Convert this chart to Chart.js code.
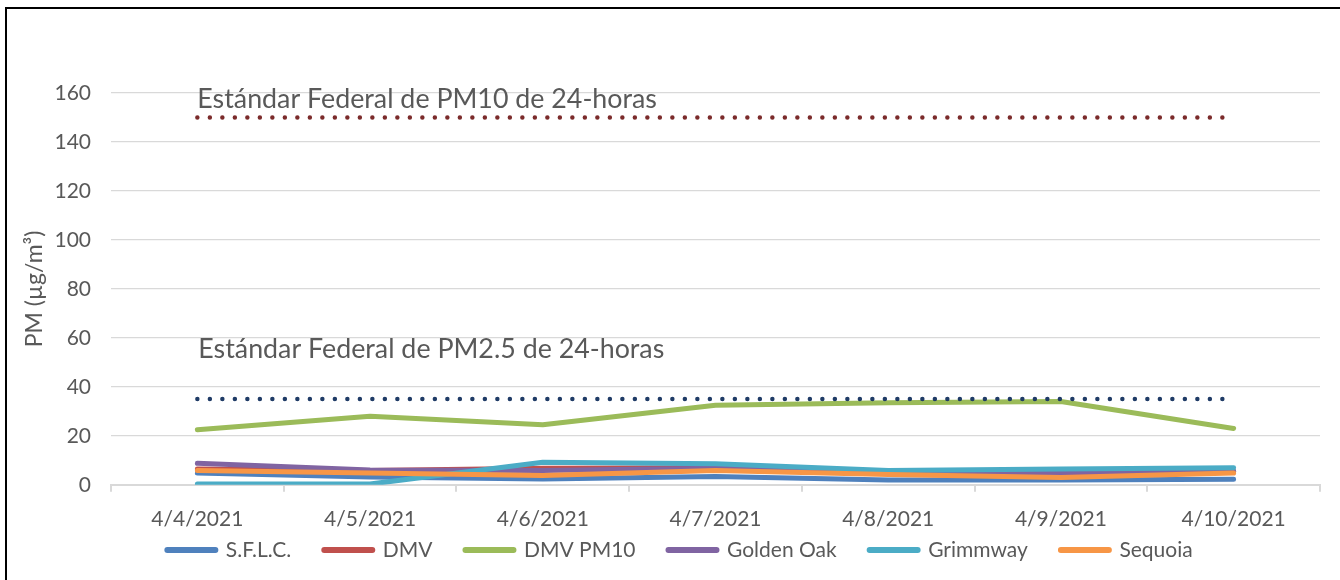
<!DOCTYPE html>
<html>
<head>
<meta charset="utf-8">
<script src="https://cdn.jsdelivr.net/npm/chart.js@4.4.1/dist/chart.umd.min.js"></script>
<style>
html,body{margin:0;padding:0;background:#fff;}
#wrap{width:1340px;height:580px;position:relative;}
</style>
</head>
<body>
<div id="wrap"><canvas id="c" width="1340" height="580"></canvas></div>
<script>
const categories = ['4/4/2021','4/5/2021','4/6/2021','4/7/2021','4/8/2021','4/9/2021','4/10/2021'];
const sflc      = [4.8, 3.2, 2.4, 3.4, 2.0, 2.0, 2.3];
const dmv       = [6.5, 5.8, 6.8, 7.0, 5.0, 4.6, 5.5];
const dmvPM10   = [22.5, 28.0, 24.5, 32.5, 33.5, 34.0, 23.0];
const goldenOak = [8.8, 6.0, 5.8, 6.8, 4.8, 5.0, 5.5];
const grimmway  = [0.3, 0.3, 9.2, 8.6, 5.8, 6.5, 7.0];
const sequoia   = [5.8, 4.8, 3.8, 5.8, 4.2, 3.0, 4.8];
const pm10Std   = [150,150,150,150,150,150,150];
const pm25Std   = [35,35,35,35,35,35,35];
const yTicks    = [0,20,40,60,80,100,120,140,160];
const pm10Label = 'Estándar Federal de PM10 de 24-horas';
const pm25Label = 'Estándar Federal de PM2.5 de 24-horas';

const FONT = 'Lato, "Open Sans", sans-serif';
const GREY = '#595959';

function series(label, data, color, order){
  return {label, data, borderColor: color, backgroundColor: color, borderWidth: 5,
    pointRadius: 0, pointHoverRadius: 0, tension: 0, fill: false, order,
    borderCapStyle: 'round', borderJoinStyle: 'round'};
}
function stdLine(label, data, color, order){
  return {label, data, borderColor: color, backgroundColor: color, borderWidth: 4.5,
    borderDash: [0, 12.5], borderCapStyle: 'round', pointRadius: 0, pointHoverRadius: 0,
    fill: false, order, isStd: true};
}

const LEGEND_PAD = 33, LEGEND_FONT = 21, LEGEND_CENTER = 550, LEGEND_SHIFT_X = 13;

const framePlugin = {
  id: 'frame',
  afterLayout(chart){
    const lg = chart.legend;
    if (lg) {
      const want = LEGEND_CENTER - LEGEND_PAD - LEGEND_FONT / 2;
      const dy = want - lg.top;
      lg.top += dy; lg.bottom += dy;
      lg.left += LEGEND_SHIFT_X; lg.right += LEGEND_SHIFT_X;
    }
  },
  afterDraw(chart){
    const ctx = chart.ctx;
    ctx.save();
    ctx.strokeStyle = '#000';
    ctx.lineWidth = 2;
    ctx.beginPath();
    ctx.moveTo(6, 580); ctx.lineTo(6, 8); ctx.lineTo(1340, 8);
    ctx.stroke();
    const xs = chart.scales.x, ys = chart.scales.y;
    ctx.fillStyle = GREY;
    ctx.font = '26.8px ' + FONT;
    ctx.textBaseline = 'middle';
    ctx.textAlign = 'left';
    ctx.fillText(pm10Label, xs.getPixelForValue(0), ys.getPixelForValue(157.5));
    ctx.fillText(pm25Label, xs.getPixelForValue(0) + 1, ys.getPixelForValue(55.5));
    ctx.restore();
  }
};

new Chart(document.getElementById('c'), {
  type: 'line',
  data: {
    labels: categories,
    datasets: [
      series('S.F.L.C.', sflc, '#4F81BD', 7),
      series('DMV', dmv, '#C0504D', 6),
      series('DMV PM10', dmvPM10, '#9BBB59', 5),
      series('Golden Oak', goldenOak, '#8064A2', 4),
      series('Grimmway', grimmway, '#4BACC6', 3),
      series('Sequoia', sequoia, '#F79646', 2),
      stdLine('PM10 Std', pm10Std, '#7B2B2B', 1),
      stdLine('PM2.5 Std', pm25Std, '#1F3B66', 0)
    ]
  },
  options: {
    responsive: false,
    animation: false,
    layout: { padding: { left: 14, right: 20, top: 93, bottom: -31 } },
    plugins: {
      tooltip: { enabled: false },
      legend: {
        position: 'bottom',
        labels: {
          font: { family: FONT, size: LEGEND_FONT },
          color: GREY,
          boxWidth: 48,
          boxHeight: 0,
          padding: LEGEND_PAD,
          sort: (a, b) => a.datasetIndex - b.datasetIndex,
          filter: (item, data) => !data.datasets[item.datasetIndex].isStd,
          generateLabels(chart){
            const items = Chart.defaults.plugins.legend.labels.generateLabels(chart);
            items.forEach(it => { it.lineWidth = 6; it.lineCap = 'round'; it.fillStyle = it.strokeStyle; });
            return items;
          }
        }
      }
    },
    scales: {
      x: {
        offset: true,
        grid: { display: true, drawOnChartArea: false, offset: true, color: '#D9D9D9', tickLength: 7, tickColor: '#D9D9D9', lineWidth: 2 },
        border: { color: '#D9D9D9', width: 2 },
        ticks: { font: { family: FONT, size: 21 }, color: GREY, maxRotation: 0, autoSkip: false, padding: 15 }
      },
      y: {
        min: 0, max: 160,
        afterBuildTicks(axis){ axis.ticks = yTicks.map(v => ({value: v})); },
        afterFit(axis){ axis.width = 97; },
        grid: { color: '#D9D9D9', lineWidth: 1.2, drawTicks: false },
        border: { display: false },
        ticks: { font: { family: FONT, size: 21 }, color: GREY, padding: 20 },
        title: { display: true, text: 'PM (µg/m³)', font: { family: FONT, size: 23 }, color: GREY, padding: { top: 7, bottom: 0 } }
      }
    }
  },
  plugins: [framePlugin]
});
</script>
</body>
</html>
